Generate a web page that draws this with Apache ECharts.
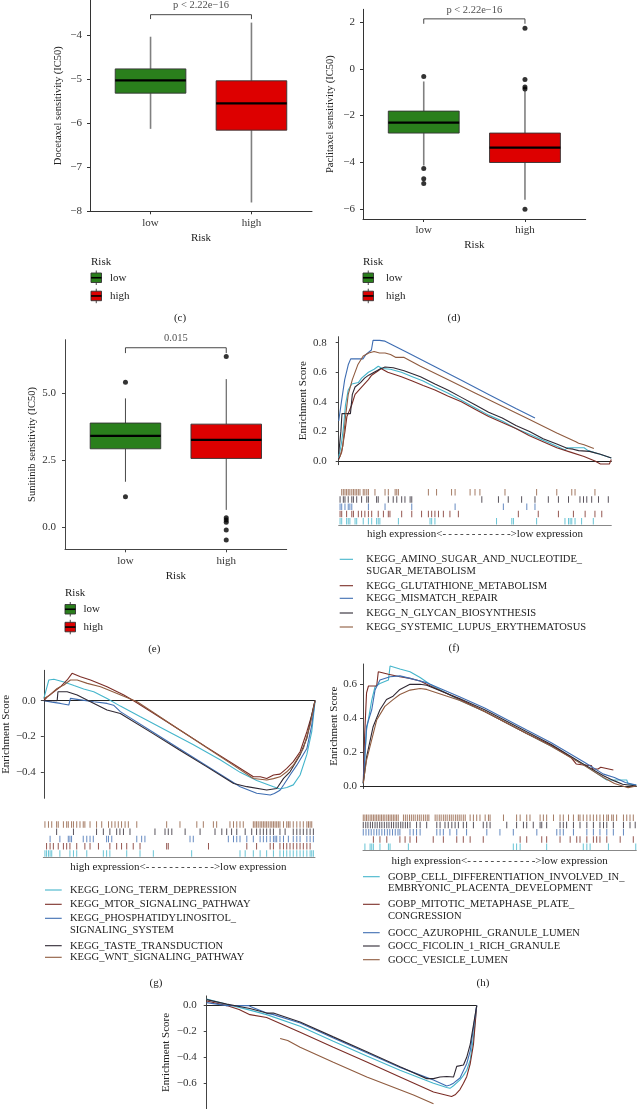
<!DOCTYPE html>
<html><head><meta charset="utf-8">
<script src="https://cdn.jsdelivr.net/npm/echarts@6/dist/echarts.min.js"></script>
<style>html,body{margin:0;padding:0;background:#fff}#main{width:637px;height:1109px}</style>
</head><body><div id="main"></div>
<script>
// ---------------- DATA ----------------
const riskGroups = ['low', 'high'];
// box stats per group: [lower whisker, Q1, median, Q3, upper whisker]
const docetaxelBox = [[-6.13, -5.32, -5.03, -4.77, -4.04], [-7.80, -6.16, -5.55, -5.04, -3.72]];
const docetaxelOut = [[], []];
const paclitaxelBox = [[-4.14, -2.75, -2.30, -1.81, -0.54], [-5.61, -4.01, -3.37, -2.75, -0.95]];
const paclitaxelOut = [[-0.33, -4.27, -4.71, -4.91], [1.74, -0.46, -0.78, -0.86, -6.01]];
const sunitinibBox = [[1.70, 2.93, 3.41, 3.89, 4.81], [0.65, 2.57, 3.26, 3.85, 5.53]];
const sunitinibOut = [[5.41, 1.14], [6.37, 0.36, 0.27, 0.19, -0.10, -0.47]];
const docetaxelTicks = [-8, -7, -6, -5, -4];
const paclitaxelTicks = [-6, -4, -2, 0, 2];
const sunitinibTicks = [0, 2.5, 5];
const docetaxelP = 'p < 2.22e\u221216';
const paclitaxelP = 'p < 2.22e\u221216';
const sunitinibP = '0.015';
const docetaxelBracket = [-3.64, -3.54];
const paclitaxelBracket = [1.93, 2.14];
const sunitinibBracket = [6.50, 6.70];

// GSEA panel (f)
const fNames = ['KEGG_AMINO_SUGAR_AND_NUCLEOTIDE_\nSUGAR_METABOLISM', 'KEGG_GLUTATHIONE_METABOLISM', 'KEGG_MISMATCH_REPAIR', 'KEGG_N_GLYCAN_BIOSYNTHESIS', 'KEGG_SYSTEMIC_LUPUS_ERYTHEMATOSUS'];
const fAmino = [[0,0.02],[1,0.12],[1.7,0.22],[2.5,0.38],[3.5,0.48],[4.8,0.52],[7.2,0.53],[8.4,0.56],[10.9,0.6],[13,0.62],[14.5,0.64],[16,0.625],[19,0.62],[23,0.6],[27,0.57],[31,0.54],[35.3,0.5],[40,0.46],[45,0.41],[50,0.36],[55,0.31],[60,0.27],[65,0.22],[70,0.18],[75,0.14],[80,0.1],[83,0.075],[84,0.09],[90,0.09],[91.5,0.07],[95,0.05],[100,0.02]];
const fGlutathione = [[0,0.01],[1.1,0.06],[2.3,0.2],[3,0.3],[4.8,0.38],[6,0.45],[8.4,0.5],[10.9,0.55],[12.1,0.58],[14.5,0.61],[15.5,0.625],[18,0.6],[23,0.57],[27,0.54],[31,0.51],[35.3,0.48],[40,0.44],[45,0.4],[50,0.35],[55,0.3],[60,0.26],[65,0.22],[70,0.17],[75,0.13],[80,0.09],[85,0.06],[90,0.03],[94,0.0],[96,-0.02],[99.3,-0.02],[100,0.01]];
const fMismatch = [[0,0.27],[1,0.4],[2.2,0.55],[3.5,0.65],[4.4,0.69],[8.9,0.69],[10,0.72],[12,0.75],[12.6,0.815],[15,0.815],[17,0.81],[25,0.735],[35,0.64],[45,0.545],[55,0.45],[65,0.355],[72,0.29]];
const fNGlycan = [[0,0.05],[0.8,0.2],[1.2,0.32],[4.3,0.32],[5,0.45],[6,0.5],[8,0.53],[9.5,0.56],[11,0.58],[13,0.6],[15,0.62],[17,0.635],[20,0.63],[24,0.61],[30,0.57],[35.3,0.52],[40,0.48],[45,0.43],[50,0.38],[55,0.33],[60,0.29],[65,0.24],[70,0.2],[75,0.15],[80,0.115],[84,0.085],[86,0.08],[88,0.07],[92,0.065],[96,0.045],[100,0.02]];
const fLupus = [[0.5,0.03],[1.5,0.1],[2.5,0.3],[3.5,0.45],[5,0.55],[7,0.65],[9,0.71],[11,0.73],[13,0.74],[15,0.73],[17,0.73],[19,0.72],[21,0.7],[24,0.7],[30,0.64],[40,0.55],[50,0.46],[60,0.37],[70,0.28],[80,0.19],[87,0.13],[88,0.12],[90,0.11],[93.6,0.085]];
const fAminoHits = [0.5,1.1,2.9,3.5,4.1,6.0,6.6,9.0,10.9,12.1,13.9,14.5,15.1,21.9,33.5,34.1,35.3,57.9,63.5,64.1,72.6,83.0,84.3,84.9,85.5,86.7,89.1,93.4];
const fGlutathioneHits = [0.5,1.1,2.9,4.8,5.4,7.2,8.4,9.6,10.9,12.1,14.5,16.4,18.2,18.8,23.1,26.8,30.4,32.9,34.1,35.3,36.6,38.4,40.8,43.9,65.9,73.2,80.6,86.1,90.4,94.0,96.5];
const fMismatchHits = [0.5,1.1,2.3,3.5,4.1,4.8,10.9,17.0,26.8,42.7,60.4,69.0,72.0];
const fNGlycanHits = [0.5,1.7,2.3,3.5,4.8,5.4,6.6,8.4,10.3,10.9,13.9,14.5,18.2,20.0,21.3,23.1,24.3,26.2,26.8,52.5,58.6,62.2,67.1,72.0,76.9,80.6,84.3,88.5,89.8,91.0,92.8,95.3,98.9];
const fLupusHits = [1.1,1.7,2.3,2.9,3.5,4.1,4.8,5.4,6.0,6.6,7.2,7.8,9.0,9.6,10.3,10.9,13.3,17.0,18.2,20.7,21.3,21.9,32.9,35.9,41.4,42.7,48.2,50.0,51.8,61.0,72.6,80.0,85.5,86.7,94.0];
const fTicks = [0, 0.2, 0.4, 0.6, 0.8];

// GSEA panel (g)
const gNames = ['KEGG_LONG_TERM_DEPRESSION', 'KEGG_MTOR_SIGNALING_PATHWAY', 'KEGG_PHOSPHATIDYLINOSITOL_\nSIGNALING_SYSTEM', 'KEGG_TASTE_TRANSDUCTION', 'KEGG_WNT_SIGNALING_PATHWAY'];
const gLongTerm = [[0,0.013],[1.85,0.116],[3.7,0.12],[7.4,0.105],[11.1,0.085],[14.7,0.066],[18.4,0.05],[23.3,0.013],[28.2,-0.03],[35.6,-0.09],[45,-0.165],[55,-0.245],[65,-0.33],[72.4,-0.4],[78.5,-0.445],[84.7,-0.48],[87.1,-0.493],[89.6,-0.485],[92,-0.47],[94.5,-0.415],[97,-0.3],[98.8,-0.173],[100,-0.006]];
const gMtor = [[0,0],[1.2,0.02],[3.7,0.05],[6.1,0.078],[8.6,0.116],[10.4,0.153],[13.5,0.134],[17.2,0.116],[23.3,0.078],[29.5,0.032],[33.1,0],[40,-0.066],[50,-0.162],[60,-0.259],[70,-0.355],[77.3,-0.425],[79.8,-0.425],[82.2,-0.434],[84.7,-0.415],[87.1,-0.41],[89.6,-0.378],[92,-0.34],[94.5,-0.285],[97,-0.173],[98.8,-0.08],[100,0]];
const gPhos = [[0,0],[3,-0.008],[6.1,-0.015],[9.2,-0.024],[9.8,0.013],[13.5,0.005],[18.4,-0.006],[23.3,-0.015],[25.7,-0.025],[28.2,-0.061],[40,-0.173],[50,-0.268],[60,-0.363],[72.4,-0.48],[78.5,-0.517],[83.5,-0.527],[85,-0.518],[87.1,-0.5],[88.4,-0.471],[90.8,-0.415],[93.3,-0.36],[97,-0.267],[98.8,-0.136],[100,0]];
const gTaste = [[0,0],[4.9,0],[5.2,0.05],[8.6,0.05],[12.3,0.032],[17.2,-0.006],[23.3,-0.052],[28.2,-0.071],[40,-0.181],[50,-0.275],[60,-0.368],[70,-0.462],[74.9,-0.48],[82.2,-0.499],[85.9,-0.49],[88.4,-0.434],[90.8,-0.397],[94.5,-0.303],[97,-0.21],[98.8,-0.08],[100,0]];
const gWnt = [[0,0.013],[2,0.03],[4.9,0.069],[7.4,0.088],[9.8,0.116],[12.3,0.116],[16,0.097],[20.9,0.078],[27,0.041],[34.4,-0.006],[40,-0.062],[50,-0.162],[60,-0.261],[70,-0.361],[77.3,-0.434],[82.2,-0.443],[84.7,-0.435],[87.1,-0.425],[89.6,-0.397],[92,-0.36],[95.7,-0.267],[98.2,-0.136],[100,0]];
const gLongTermHits = [0.6,1.2,1.9,2.5,3.1,6.1,9.8,11.1,12.3,16.0,22.1,23.3,24.5,30.7,35.6,40.5,54.6,72.4,74.3,77.3,79.8,82.2,84.7,87.1,88.4,89.6,90.8,92.0,93.3,94.5,95.7,97.0,98.2,98.8,99.4];
const gMtorHits = [1.2,2.5,3.7,5.5,7.4,8.6,9.8,12.3,15.3,17.2,20.3,24.5,27.0,28.8,30.7,33.1,35.6,45.4,46.0,60.8,74.9,78.5,83.5,84.7,87.1,88.4,89.6,90.8,92.0,93.3,94.5,95.7,97.0,98.2];
const gPhosHits = [2.5,6.1,9.2,9.8,10.4,14.7,16.0,17.2,18.4,23.3,24.0,25.2,34.4,36.2,37.4,54.0,55.2,68.1,70.0,71.2,72.4,74.9,77.3,79.8,81.0,82.2,83.5,84.7,85.3,85.9,87.1,88.4,90.2,92.0,93.3,94.5,97.0,98.2,99.4];
const gTasteHits = [4.9,11.1,19.6,22.1,24.5,27.0,28.2,29.5,31.9,41.1,44.8,46.0,47.3,52.2,57.7,63.2,65.7,67.5,69.3,71.2,74.3,76.7,78.5,79.8,81.0,82.2,83.5,84.7,87.1,89.0,92.0,93.3,94.5,95.7,97.0,98.2,99.4];
const gWntHits = [0.6,1.9,3.1,4.9,5.5,7.4,8.6,9.2,10.4,11.1,12.3,13.5,14.7,15.3,17.2,19.6,21.5,24.0,25.2,26.4,27.6,28.8,30.1,31.3,34.4,45.4,50.3,56.5,58.9,62.6,63.8,68.7,70.0,71.2,72.4,73.6,77.3,77.9,78.5,79.1,79.8,80.4,81.0,81.6,82.2,82.8,83.5,84.1,84.7,85.3,85.9,86.5,87.1,88.4,89.6,90.2,90.8,92.0,93.3,94.5,95.7,97.0,97.6,98.2,98.8];
const gTicks = [-0.4, -0.2, 0];

// GSEA panel (h)
const hNames = ['GOBP_CELL_DIFFERENTIATION_INVOLVED_IN_\nEMBRYONIC_PLACENTA_DEVELOPMENT', 'GOBP_MITOTIC_METAPHASE_PLATE_\nCONGRESSION', 'GOCC_AZUROPHIL_GRANULE_LUMEN', 'GOCC_FICOLIN_1_RICH_GRANULE', 'GOCC_VESICLE_LUMEN'];
const hCellDiff = [[0.1,0.016],[1.3,0.33],[3.2,0.507],[4.4,0.586],[6.2,0.605],[9.3,0.625],[9.9,0.708],[13.5,0.69],[17.2,0.674],[20.9,0.64],[24.5,0.6],[35.5,0.505],[44.5,0.44],[59.9,0.31],[68.9,0.235],[81,0.125],[85,0.08],[89.2,0.035],[96.5,0.035],[97,0.012],[100,0.005]];
const hMitotic = [[0.1,0.02],[0.6,0.3],[1.3,0.55],[2,0.59],[5,0.59],[5.6,0.674],[6.2,0.68],[9.3,0.66],[13.5,0.645],[17.2,0.635],[20.9,0.62],[23.3,0.6],[35.5,0.51],[44.5,0.44],[59.9,0.31],[68.9,0.24],[76,0.17],[78,0.13],[80,0.125],[83.6,0.12],[84,0.1],[86,0.1],[87,0.11],[91.6,0.094]];
const hAzurophil = [[0.1,0.016],[1.3,0.35],[3.2,0.45],[4.4,0.566],[6.2,0.625],[9.9,0.645],[13.5,0.65],[17.2,0.635],[20.9,0.62],[23.3,0.61],[35.5,0.525],[44.5,0.46],[59.9,0.33],[68.9,0.255],[81,0.14],[88,0.07],[92,0.05],[96,0.02],[100,0.005]];
const hFicolin = [[0.1,0.016],[1.3,0.17],[3.7,0.35],[6.2,0.45],[8.6,0.51],[11,0.53],[13.5,0.57],[17.2,0.6],[20.9,0.6],[23.3,0.595],[35.5,0.515],[44.5,0.45],[59.9,0.32],[68.9,0.245],[81,0.125],[88,0.06],[92,0.03],[95,0.01],[100,0]];
const hVesicle = [[0.1,0.016],[1.3,0.153],[5,0.389],[8,0.47],[11,0.51],[13.5,0.54],[17.2,0.566],[20.9,0.575],[23.3,0.57],[35.5,0.505],[44.5,0.44],[59.9,0.31],[68.9,0.235],[81,0.12],[88,0.05],[92,0.015],[95,0.0],[97,-0.01],[100,0.0]];
const hCellDiffHits = [0.7,2.6,3.2,3.8,6.2,9.3,9.9,16.6,55.0,56.2,57.5,67.2,80.6,81.9,83.1,89.8,99.8];
const hMitoticHits = [3.8,6.2,8.7,13.5,15.4,17.2,19.6,25.7,29.4,34.3,36.7,39.2,44.0,57.5,59.9,65.4,67.2,72.1,75.8,78.2,79.4,81.9,84.3,85.5,86.7,89.2,94.1,98.9];
const hAzurophilHits = [0.1,1.1,2.1,3.0,4.0,5.0,5.9,6.9,7.9,8.9,9.8,10.8,11.8,12.8,13.5,17.2,18.4,19.6,20.9,27.0,28.2,29.4,31.8,34.3,37.9,45.3,50.1,55.0,63.6,70.9,72.1,73.3,77.0,81.9,84.3,86.7,89.2,91.6,95.3];
const hFicolinHits = [0.1,1.0,1.8,2.7,3.5,4.4,5.2,6.1,6.9,7.8,8.7,9.5,10.4,11.2,12.1,12.9,13.8,14.6,15.5,16.3,17.2,19.6,20.9,23.3,27.0,28.2,30.0,31.2,32.5,33.7,34.9,36.7,37.9,40.4,44.0,45.3,46.5,52.6,56.2,58.7,59.9,62.3,64.8,65.4,67.2,72.1,73.3,74.5,77.0,79.4,81.9,84.3,86.7,88.0,89.2,91.6,95.3,97.7,99.6];
const hVesicleHits = [0.1,0.7,1.3,1.9,2.6,3.2,3.8,4.4,5.0,5.6,6.2,6.8,7.4,8.0,8.7,9.3,9.9,10.5,11.1,11.7,12.3,12.9,14.8,15.5,16.2,17.0,17.7,18.4,19.1,19.9,20.6,21.3,22.1,22.8,23.5,24.1,26.4,27.1,27.9,28.6,29.4,30.1,30.8,31.6,32.3,33.0,33.8,34.5,35.2,35.9,36.7,37.4,39.2,40.4,41.6,42.8,44.7,45.9,46.5,51.4,56.2,57.5,59.9,61.1,64.8,66.0,67.2,69.7,72.1,73.3,75.2,77.0,78.8,79.4,80.6,81.9,83.1,84.3,85.5,86.7,88.0,89.2,89.8,91.0,91.6,92.8,95.3,96.5,97.7,98.9];
const hTicks = [0, 0.2, 0.4, 0.6];

// GSEA panel (i) (legend cut off in the source)
const iCyan = [[0,0.05],[7.4,0.01],[16,-0.035],[22.2,-0.07],[34.6,-0.16],[46.9,-0.275],[59.3,-0.39],[71.6,-0.5],[84,-0.6],[88.9,-0.634],[90.1,-0.64],[91.4,-0.62],[93.8,-0.575],[95.1,-0.54],[96.3,-0.5],[97.6,-0.42],[98.2,-0.33],[98.8,-0.25],[100,0]];
const iDarkRed = [[0,0.035],[7.4,0.0],[12,-0.03],[16,-0.07],[22.2,-0.092],[34.6,-0.207],[46.9,-0.322],[59.3,-0.437],[71.6,-0.552],[84,-0.668],[90.7,-0.703],[92,-0.69],[93.8,-0.65],[95.1,-0.6],[96.3,-0.55],[97.6,-0.45],[98.8,-0.3],[100,0]];
const iBlue = [[0,0.023],[7.4,0.0],[15.4,0.0],[16.6,-0.01],[22.2,-0.058],[24.7,-0.07],[34.6,-0.135],[46.9,-0.25],[59.3,-0.365],[71.6,-0.478],[84,-0.575],[88.9,-0.622],[90.1,-0.615],[91.4,-0.6],[93.8,-0.56],[96.3,-0.45],[97.6,-0.35],[98.8,-0.17],[100,0]];
const iBlack = [[0,0.046],[7.4,0.0115],[16,-0.023],[22.2,-0.058],[24.7,-0.058],[34.6,-0.127],[46.9,-0.242],[59.3,-0.357],[71.6,-0.473],[81.5,-0.565],[84,-0.565],[86.4,-0.553],[88.9,-0.548],[91.4,-0.553],[92.6,-0.47],[95.1,-0.46],[96.3,-0.4],[97.6,-0.3],[98.8,-0.15],[100,0]];
const iBrown = [[27.2,-0.254],[30,-0.27],[34.6,-0.323],[46.9,-0.438],[59.3,-0.553],[76.6,-0.692],[84,-0.76]];
const iTicks = [-0.6, -0.4, -0.2, 0];

// ---------------- STYLE / LAYOUT ----------------
const FONT = '"Liberation Serif", "Times New Roman", serif';
const boxColors = ['#2A7F1C', '#DD0000'];
const gseaColors = ['#44B5CB', '#7B2D26', '#3E6DB2', '#2F2833', '#8F5B3F'];
const grids = [], xAxes = [], yAxes = [], series = [], graphics = [];
const minus = s => String(s).replace('-', '\u2212');

function addBoxPanel(p) {
  const gi = grids.length;
  grids.push({ left: p.left, top: p.top, width: p.width, height: p.height });
  xAxes.push({
    gridIndex: gi, type: 'value', min: 0.4, max: 2.6,
    name: 'Risk', nameLocation: 'middle', nameGap: p.xNameGap,
    nameTextStyle: { fontFamily: FONT, fontSize: 11, color: '#222' },
    axisLine: { show: true, onZero: false, lineStyle: { color: p.axisColor, width: 1 } },
    axisTick: { show: true, customValues: [1, 2], length: 3, lineStyle: { color: p.axisColor } },
    axisLabel: { customValues: [1, 2], formatter: v => riskGroups[Math.round(v) - 1] || '', margin: 6, fontFamily: FONT, fontSize: 11, color: '#333' },
    splitLine: { show: false }
  });
  yAxes.push({
    gridIndex: gi, type: 'value', min: p.ymin, max: p.ymax,
    name: p.yName, nameLocation: 'middle', nameRotate: 90, nameGap: p.yNameGap,
    nameTextStyle: { fontFamily: FONT, fontSize: 10.5, color: '#222' },
    axisLine: { show: true, onZero: false, lineStyle: { color: p.axisColor, width: 1 } },
    axisTick: { show: true, customValues: p.ticks, length: 3, lineStyle: { color: p.axisColor } },
    axisLabel: { customValues: p.ticks, formatter: p.fmt, margin: p.labelMargin, fontFamily: FONT, fontSize: 11, color: '#333' },
    splitLine: { show: false }
  });
  const wc = p.whiskerColor, ww = p.whiskerWidth;
  series.push({
    type: 'custom', xAxisIndex: gi, yAxisIndex: gi, clip: false, z: 2,
    data: p.box.map((b, i) => [i + 1].concat(b)),
    encode: { x: 0, y: [1, 2, 3, 4, 5] },
    renderItem: function (params, api) {
      const x = api.value(0), hw = 0.35;
      const lw = api.value(1), q1 = api.value(2), md = api.value(3), q3 = api.value(4), uw = api.value(5);
      const c = v => api.coord([x, v]);
      const tl = api.coord([x - hw, q3]), br = api.coord([x + hw, q1]);
      const ml = api.coord([x - hw, md]), mr = api.coord([x + hw, md]);
      return { type: 'group', children: [
        { type: 'line', shape: { x1: c(uw)[0], y1: c(uw)[1], x2: c(q3)[0], y2: c(q3)[1] }, style: { stroke: wc, lineWidth: ww } },
        { type: 'line', shape: { x1: c(lw)[0], y1: c(lw)[1], x2: c(q1)[0], y2: c(q1)[1] }, style: { stroke: wc, lineWidth: ww } },
        { type: 'rect', shape: { x: tl[0], y: tl[1], width: br[0] - tl[0], height: br[1] - tl[1] }, style: { fill: boxColors[params.dataIndex], stroke: '#333', lineWidth: 0.9 } },
        { type: 'line', shape: { x1: ml[0], y1: ml[1], x2: mr[0], y2: mr[1] }, style: { stroke: '#000', lineWidth: 2.2 } }
      ] };
    }
  });
  const pts = [];
  p.out.forEach((arr, i) => arr.forEach(v => pts.push([i + 1, v])));
  series.push({ type: 'scatter', xAxisIndex: gi, yAxisIndex: gi, data: pts, symbolSize: 5, itemStyle: { color: '#000' }, z: 3 });
  series.push({ type: 'line', xAxisIndex: gi, yAxisIndex: gi, symbol: 'none', clip: false,
    data: [[1, p.bracket[0]], [1, p.bracket[1]], [2, p.bracket[1]], [2, p.bracket[0]]],
    lineStyle: { color: '#333', width: 0.9 } });
  series.push({ type: 'scatter', xAxisIndex: gi, yAxisIndex: gi, clip: false, data: [[1.5, p.bracket[1]]], symbolSize: 1,
    itemStyle: { color: 'transparent' }, silent: true,
    label: { show: true, position: 'top', distance: 3, formatter: p.pText, fontFamily: FONT, fontSize: 10.5, color: '#222' } });
}

function addGseaPanel(p) {
  const gi = grids.length;
  grids.push({ left: p.left, top: p.top, width: p.width, height: p.height });
  xAxes.push({ gridIndex: gi, type: 'value', min: 0, max: 100,
    axisLine: { show: true, onZero: true, lineStyle: { color: '#222', width: 1 } },
    axisTick: { show: false }, axisLabel: { show: false }, splitLine: { show: false } });
  yAxes.push({ gridIndex: gi, type: 'value', min: p.ymin, max: p.ymax,
    name: 'Enrichment Score', nameLocation: 'middle', nameRotate: 90, nameGap: p.yNameGap,
    nameTextStyle: { fontFamily: FONT, fontSize: 11, color: '#222' },
    axisLine: { show: true, onZero: false, lineStyle: { color: '#444', width: 1 } },
    axisTick: { show: true, customValues: p.ticks, length: 3, lineStyle: { color: '#444' } },
    axisLabel: { customValues: p.ticks, formatter: v => minus(v.toFixed(1)), margin: p.labelMargin, fontFamily: FONT, fontSize: 11, color: '#333' },
    splitLine: { show: false } });
  p.curves.forEach((c, k) => series.push({ type: 'line', xAxisIndex: gi, yAxisIndex: gi, data: c,
    symbol: 'none', showSymbol: false, lineStyle: { color: gseaColors[k], width: 1.1 }, itemStyle: { color: gseaColors[k] }, z: 2 }));
}

function addRug(p) {
  const gi = grids.length;
  grids.push({ left: p.left, top: p.top, width: p.width, height: p.height });
  xAxes.push({ gridIndex: gi, type: 'value', min: 0, max: 100,
    axisLine: { show: true, onZero: false, lineStyle: { color: '#888', width: 1 } },
    axisTick: { show: false }, axisLabel: { show: false }, splitLine: { show: false } });
  yAxes.push({ gridIndex: gi, type: 'value', min: 0, max: 5, show: false });
  p.hits.forEach((h, k) => series.push({ type: 'scatter', xAxisIndex: gi, yAxisIndex: gi,
    data: h.map(v => [v, k + 0.5]), symbol: 'rect', symbolSize: [1, p.rowH],
    itemStyle: { color: gseaColors[k], opacity: 0.8 } }));
}

function txt(x, y, s, opt) {
  opt = opt || {};
  graphics.push({ type: 'text', x: x, y: y, silent: true, style: {
    text: s, font: (opt.size || 10.5) + 'px ' + FONT, fill: opt.color || '#222',
    textAlign: opt.align || 'left', textVerticalAlign: opt.valign || 'middle', lineHeight: opt.lh || 11 } });
}

function riskLegend(p) {
  txt(p.x, p.titleY, 'Risk', { size: 11 });
  riskGroups.forEach((g, i) => {
    const top = p.keyTops[i], w = p.keyW, h = 9.5, cx = p.x + w / 2;
    graphics.push({ type: 'line', silent: true, shape: { x1: cx, y1: top - 2.5, x2: cx, y2: top + h + 2.5 }, style: { stroke: '#333', lineWidth: 0.9 } });
    graphics.push({ type: 'rect', silent: true, shape: { x: p.x, y: top, width: w, height: h }, style: { fill: boxColors[i], stroke: '#333', lineWidth: 0.9 } });
    graphics.push({ type: 'line', silent: true, shape: { x1: p.x, y1: top + h / 2, x2: p.x + w, y2: top + h / 2 }, style: { stroke: '#000', lineWidth: 1.6 } });
    txt(p.labelX, top + h / 2, g, { size: 11 });
  });
}

function gseaLegend(p) {
  p.names.forEach((n, k) => {
    const y = p.ys[k];
    graphics.push({ type: 'line', silent: true, shape: { x1: p.x1, y1: y, x2: p.x2, y2: y }, style: { stroke: gseaColors[k], lineWidth: 1.1 } });
    txt(p.tx, y - 5.5, n, { valign: 'top', lh: 11.3, size: 10.5 });
  });
}

// ---------------- PANELS ----------------
addBoxPanel({ left: 90, top: -2, width: 222, height: 213.3, ymin: -8, ymax: -3.207, ticks: docetaxelTicks,
  fmt: v => minus(v), yName: 'Docetaxel sensitivity (IC50)', yNameGap: 26, labelMargin: 8, xNameGap: 21,
  box: docetaxelBox, out: docetaxelOut, bracket: docetaxelBracket, pText: docetaxelP,
  axisColor: '#333', whiskerColor: '#808080', whiskerWidth: 1.6 });
addBoxPanel({ left: 363, top: 9.3, width: 222.7, height: 209.7, ymin: -6.43, ymax: 2.55, ticks: paclitaxelTicks,
  fmt: v => minus(v), yName: 'Paclitaxel sensitivity (IC50)', yNameGap: 27.5, labelMargin: 8, xNameGap: 20.5,
  box: paclitaxelBox, out: paclitaxelOut, bracket: paclitaxelBracket, pText: paclitaxelP,
  axisColor: '#333', whiskerColor: '#808080', whiskerWidth: 1.6 });
addBoxPanel({ left: 65, top: 339.7, width: 221.7, height: 209.6, ymin: -0.82, ymax: 7.0, ticks: sunitinibTicks,
  fmt: v => minus(v.toFixed(1)), yName: 'Sunitinib sensitivity (IC50)', yNameGap: 27, labelMargin: 9, xNameGap: 21,
  box: sunitinibBox, out: sunitinibOut, bracket: sunitinibBracket, pText: sunitinibP,
  axisColor: '#444', whiskerColor: '#333', whiskerWidth: 0.9 });

addGseaPanel({ left: 338.7, top: 336.7, width: 272.6, height: 128, ymin: -0.025, ymax: 0.84, ticks: fTicks,
  yNameGap: 26, labelMargin: 12, curves: [fAmino, fGlutathione, fMismatch, fNGlycan, fLupus] });
addRug({ left: 338.7, top: 488.5, width: 272.6, height: 36.5, rowH: 6.5,
  hits: [fAminoHits, fGlutathioneHits, fMismatchHits, fNGlycanHits, fLupusHits] });

addGseaPanel({ left: 43.3, top: 670.3, width: 271.7, height: 128, ymin: -0.545, ymax: 0.17, ticks: gTicks,
  yNameGap: 30, labelMargin: 8, curves: [gLongTerm, gMtor, gPhos, gTaste, gWnt] });
addRug({ left: 43.3, top: 821, width: 271.7, height: 36, rowH: 6.5,
  hits: [gLongTermHits, gMtorHits, gPhosHits, gTasteHits, gWntHits] });

addGseaPanel({ left: 363, top: 664, width: 273.3, height: 124.5, ymin: -0.015, ymax: 0.72, ticks: hTicks,
  yNameGap: 23, labelMargin: 6, curves: [hCellDiff, hMitotic, hAzurophil, hFicolin, hVesicle] });
addRug({ left: 363, top: 814, width: 273.3, height: 36.5, rowH: 6.5,
  hits: [hCellDiffHits, hMitoticHits, hAzurophilHits, hFicolinHits, hVesicleHits] });

addGseaPanel({ left: 206.7, top: 995.9, width: 270, height: 126.4, ymin: -0.8, ymax: 0.075, ticks: iTicks,
  yNameGap: 35, labelMargin: 10, curves: [iCyan, iDarkRed, iBlue, iBlack, iBrown] });

// legends and labels
riskLegend({ x: 91, titleY: 262, keyTops: [273, 291.2], keyW: 10.5, labelX: 110 });
riskLegend({ x: 363, titleY: 262, keyTops: [273, 291.2], keyW: 10.5, labelX: 386 });
riskLegend({ x: 65, titleY: 593.3, keyTops: [604.5, 622.3], keyW: 10.5, labelX: 83.5 });

const dash = Array(12).fill('-').join('\u2009');
const exprText = 'high expression<' + dash + '>low expression';
txt(475, 534, exprText, { align: 'center', size: 11 });
txt(178.3, 867.3, exprText, { align: 'center', size: 11 });
txt(499.7, 860.7, exprText, { align: 'center', size: 11 });

gseaLegend({ names: fNames, ys: [559.3, 585.7, 598.3, 613, 627], x1: 339.7, x2: 353, tx: 366.3 });
gseaLegend({ names: gNames, ys: [890, 904.3, 918.3, 945.7, 957.3], x1: 45, x2: 61.7, tx: 70 });
gseaLegend({ names: hNames, ys: [876.7, 904.3, 932.7, 946, 959.7], x1: 363, x2: 379.7, tx: 388 });

txt(180, 318, '(c)', { align: 'center', size: 11 });
txt(454, 318, '(d)', { align: 'center', size: 11 });
txt(154.3, 649, '(e)', { align: 'center', size: 11 });
txt(454, 648.3, '(f)', { align: 'center', size: 11 });
txt(156, 983, '(g)', { align: 'center', size: 11 });
txt(483, 983, '(h)', { align: 'center', size: 11 });

const chart = echarts.init(document.getElementById('main'), null, { renderer: 'canvas' });
chart.setOption({
  animation: false,
  backgroundColor: '#fff',
  grid: grids, xAxis: xAxes, yAxis: yAxes, series: series, graphic: graphics
});
</script></body></html>
